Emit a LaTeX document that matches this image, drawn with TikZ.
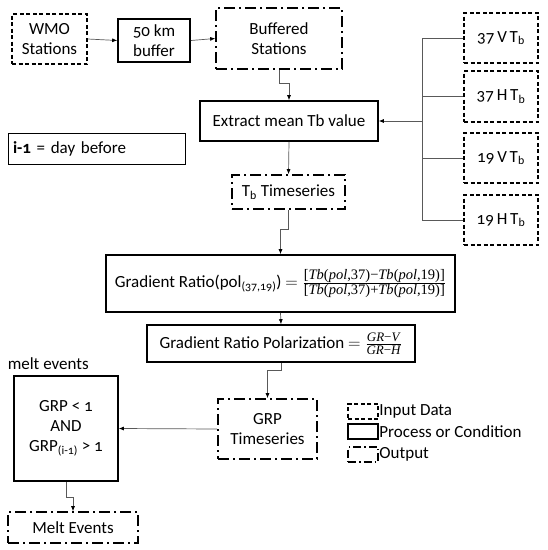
\documentclass[tikz,border=0pt]{standalone}
\usepackage{fontspec}
\setmainfont[Numbers=OldStyle]{Carlito}
\newfontfamily\mfont{Liberation Serif}
\newcommand{\mtxt}[2]{\hbox{\fontsize{#1}{#1}\mfont #2}}
\usetikzlibrary{arrows.meta}
\tikzset{
  base/.style={inner sep=0pt, align=center, font=\fontsize{17}{20}\selectfont, line width=1.6pt},
  inbox/.style={base, draw, dash pattern=on 4pt off 2.5pt},
  procbox/.style={base, draw},
  outbox/.style={base, draw, dash pattern=on 11pt off 4pt on 2pt off 4pt},
  conn/.style={draw=black!65, line width=0.7pt},
  arr/.style={conn, -{Latex[length=5pt,width=4pt,fill=black,color=black]}},
}
\begin{document}
\begin{tikzpicture}[x=1pt,y=-1pt]
\useasboundingbox (0,0) rectangle (548,550);
% top row
\node[inbox, minimum width=75, minimum height=50] (wmo) at (49.5,39) {WMO\\Stations};
\node[procbox, minimum width=72, minimum height=43] (buf) at (154,40.5) {50 km\\buffer};
\node[outbox, minimum width=126, minimum height=61] (bufst) at (279,38.5) {Buffered\\Stations};
% extract
\node[procbox, minimum width=178, minimum height=40] (ext) at (289,121) {Extract mean Tb value};
% right inputs
\node[inbox, minimum width=74, minimum height=50] (v37) at (501,38) {37\,V\,T\textsubscript{b}};
\node[inbox, minimum width=74, minimum height=51] (h37) at (501,96.5) {37\,H\,T\textsubscript{b}};
\node[inbox, minimum width=74, minimum height=50] (v19) at (501,158) {19\,V\,T\textsubscript{b}};
\node[inbox, minimum width=74, minimum height=50] (h19) at (501,220) {19\,H\,T\textsubscript{b}};
\coordinate (bus) at (422,121);
% note
\node[base, draw, line width=0.6pt, minimum width=177, minimum height=31, text width=167, align=left] (note) at (96.5,148.5) {\textbf{i-1} = day before};
% timeseries
\node[outbox, minimum width=113, minimum height=34] (tbts) at (288.5,192) {T\textsubscript{b} Timeseries};
% gradient ratio
\node[procbox, minimum width=349, minimum height=57] (gr) at (280.5,283.5) {Gradient Ratio(pol\textsubscript{(37,19)}) $=\frac{\mtxt{14.5}{[\textit{Tb}(\textit{pol},37)−\textit{Tb}(\textit{pol},19)]}}{\mtxt{14.5}{[\textit{Tb}(\textit{pol},37)+\textit{Tb}(\textit{pol},19)]}}$};
\node[procbox, minimum width=268, minimum height=37] (grp) at (281,343.5) {Gradient Ratio Polarization $=\frac{\mtxt{13}{\textit{GR}−\textit{V}}}{\mtxt{13}{\textit{GR}−\textit{H}}}$};
% GRP timeseries
\node[outbox, minimum width=99, minimum height=60] (grpts) at (267.5,429) {GRP\\Timeseries};
% melt
\node[base, anchor=south west] (mlabel) at (7,370) {melt events};
\node[procbox, minimum width=104, minimum height=105] (melt) at (66,428.5) {GRP < 1\\AND\\GRP\textsubscript{(i-1)} > 1};
\node[outbox, minimum width=130, minimum height=31] (me) at (73,527.5) {Melt Events};
% legend
\node[inbox, line width=1.3pt, minimum width=30, minimum height=15] (lin) at (363,411.5) {};
\node[procbox, line width=1.3pt, minimum width=30, minimum height=15] (lpr) at (363,431.5) {};
\node[outbox, line width=1.3pt, dash pattern=on 8pt off 3pt on 1.5pt off 3pt, minimum width=30, minimum height=15] (lout) at (363,454.5) {};
\node[base, anchor=west] (tin) at (lin.east) {Input Data};
\node[base, anchor=west] (tpr) at (lpr.east) {Process or Condition};
\node[base, anchor=west] (tout) at (lout.east) {Output};
% connectors
\draw[arr] (wmo.east) -- (buf.west);
\draw[arr] (buf.east) -- (bufst.west);
\draw[arr] (bufst.south) -- ++(0,14) -| (ext.north);
\draw[conn] (v37.west) -| (bus);
\draw[conn] (h37.west) -| (bus);
\draw[conn] (v19.west) -| (bus);
\draw[conn] (h19.west) -| (bus);
\draw[arr] (bus) -- (ext.east);
\draw[arr] (ext.south) -- (tbts.north);
\draw[arr] (tbts.south) -- ++(0,20) -| (gr.north);
\draw[arr] (gr.south) -- (grp.north);
\draw[arr] (grp.south) -- ++(0,8) -| (grpts.north);
\draw[arr] (grpts.west) -- (melt.east);
\draw[arr] (melt.south) -- ++(0,16) -| (me.north);
\end{tikzpicture}
\end{document}
